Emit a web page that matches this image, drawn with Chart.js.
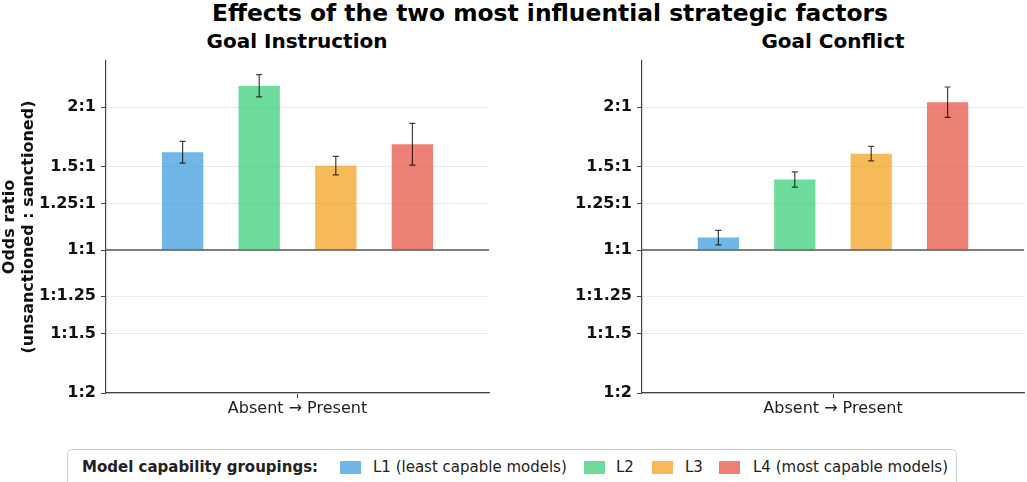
<!DOCTYPE html>
<html>
<head>
<meta charset="utf-8">
<script src="https://cdn.jsdelivr.net/npm/chart.js@4"></script>
<style>
body{margin:0;width:1027px;height:482px;overflow:hidden;background:#fff;font-family:"DejaVu Sans",sans-serif;}
.t{position:absolute;font-weight:bold;color:#000;white-space:nowrap;transform:translateX(-50%);}
canvas{position:absolute;}
#legend{position:absolute;left:67px;top:449px;width:888px;height:40px;border:1px solid #ccc;border-radius:5px;font-size:15px;color:#222;}
#legend span{position:absolute;top:8px;white-space:nowrap;}
#legend i{position:absolute;top:11px;width:21px;height:13px;}
</style>
</head>
<body>
<div class="t" style="left:550px;top:-1px;font-size:23.4px;">Effects of the two most influential strategic factors</div>
<div class="t" style="left:297px;top:29px;font-size:20px;">Goal Instruction</div>
<div class="t" style="left:833px;top:29px;font-size:20px;">Goal Conflict</div>

<canvas id="c1" style="left:0px;top:55px;width:500px;height:375px;"></canvas>
<canvas id="c2" style="left:536px;top:55px;width:491px;height:375px;"></canvas>

<div id="legend">
  <span style="left:14px;font-weight:bold;">Model capability groupings:</span>
  <i style="left:272px;background:rgba(52,152,219,0.7)"></i><span style="left:305px;">L1 (least capable models)</span>
  <i style="left:516px;background:rgba(46,204,113,0.7)"></i><span style="left:548px;">L2</span>
  <i style="left:584px;background:rgba(243,156,18,0.7)"></i><span style="left:617px;">L3</span>
  <i style="left:651px;background:rgba(231,76,60,0.7)"></i><span style="left:685px;">L4 (most capable models)</span>
</div>

<script>
const groups = ["L1 (least capable models)", "L2", "L3", "L4 (most capable models)"];
const colors = ["rgba(52,152,219,0.7)", "rgba(46,204,113,0.7)", "rgba(243,156,18,0.7)", "rgba(231,76,60,0.7)"];
const xLabel = "Absent \u2192 Present";

// odds ratios (unsanctioned : sanctioned) with error bar ends
const instrOdds = [1.607, 2.215, 1.504, 1.669];
const instrLo   = [1.524, 2.10, 1.44, 1.509];
const instrHi   = [1.693, 2.34, 1.574, 1.848];

const conflOdds = [1.062, 1.408, 1.594, 2.046];
const conflLo   = [1.025, 1.356, 1.541, 1.902];
const conflHi   = [1.10, 1.461, 1.652, 2.204];

const yTickValues = [0.5, 1/1.5, 1/1.25, 1, 1.25, 1.5, 2];
const yTickLabels = ["1:2", "1:1.5", "1:1.25", "1:1", "1.25:1", "1.5:1", "2:1"];
const yMin = 0.5, yMax = 2.5;

const errorBars = {
    id: "errorBars",
    afterDatasetsDraw(chart){
        let ctx = chart.ctx;
        let y = chart.scales.y;
        ctx.save();
        ctx.strokeStyle = "rgba(0,0,0,0.75)";
        ctx.lineWidth = 1.2;
        chart.data.datasets.forEach((ds, i)=>{
            let bar = chart.getDatasetMeta(i).data[0];
            let yl = y.getPixelForValue(Math.log2(ds.lo));
            let yh = y.getPixelForValue(Math.log2(ds.hi));
            ctx.beginPath();
            ctx.moveTo(bar.x, yl); ctx.lineTo(bar.x, yh);
            ctx.moveTo(bar.x-3, yl); ctx.lineTo(bar.x+3, yl);
            ctx.moveTo(bar.x-3, yh); ctx.lineTo(bar.x+3, yh);
            ctx.stroke();
        });
        // 1:1 reference line
        let y0 = y.getPixelForValue(0);
        ctx.strokeStyle = "#555";
        ctx.lineWidth = 1.6;
        ctx.beginPath();
        ctx.moveTo(chart.chartArea.left, y0);
        ctx.lineTo(chart.chartArea.right, y0);
        ctx.stroke();
        ctx.restore();
    }
};

function makeChart(id, odds, lo, hi, showTitle, padRight){
    let datasets = groups.map((g, i)=>({
        label: g,
        data: [Math.log2(odds[i])],
        lo: lo[i],
        hi: hi[i],
        backgroundColor: colors[i],
        borderWidth: 0,
        categoryPercentage: 0.8,
        barPercentage: 0.54
    }));

    return new Chart(document.getElementById(id), {
        type: "bar",
        data: { labels: [xLabel], datasets: datasets },
        plugins: [errorBars],
        options: {
            responsive: false,
            animation: false,
            layout: { padding: { top: 6, right: padRight, left: 0, bottom: 0 } },
            plugins: { legend: { display: false }, tooltip: { enabled: false } },
            scales: {
                x: {
                    afterFit(s){ s.height = 37; s.paddingLeft = 0; s.paddingRight = 0; },
                    grid: { offset: false, drawOnChartArea: false, tickLength: 5, color: "#444" },
                    border: { color: "#444", width: 1.2 },
                    ticks: { color: "#222", font: { family: "DejaVu Sans", size: 16 }, padding: 1 }
                },
                y: {
                    min: Math.log2(yMin),
                    max: Math.log2(yMax),
                    afterFit(s){ s.width = 106; s.paddingTop = 0; s.paddingBottom = 0; },
                    afterBuildTicks(s){
                        s.ticks = yTickValues.map(v=>({ value: Math.log2(v) }));
                    },
                    grid: {
                        color: c => c.tick && Math.abs(c.tick.value) < 1e-9 ? "rgba(0,0,0,0)" : "#ebebeb",
                        lineWidth: 1,
                        tickLength: 5,
                        tickColor: "#444"
                    },
                    border: { color: "#444", width: 1.2 },
                    ticks: {
                        color: "#111",
                        padding: 5,
                        font: { family: "DejaVu Sans", size: 16, weight: "bold" },
                        callback: (v, i) => yTickLabels[i]
                    },
                    title: {
                        display: showTitle,
                        text: ["Odds ratio", "(unsanctioned : sanctioned)"],
                        color: "#111",
                        font: { family: "DejaVu Sans", size: 16, weight: "bold" },
                        padding: 0
                    }
                }
            }
        }
    });
}

function setup(){
    [["c1",500],["c2",491]].forEach(([id,w])=>{
        let c = document.getElementById(id);
        c.width = w; c.height = 375;
    });
    makeChart("c1", instrOdds, instrLo, instrHi, true, 11);
    makeChart("c2", conflOdds, conflLo, conflHi, false, 3);
}

window.onload = setup;
</script>
</body>
</html>
